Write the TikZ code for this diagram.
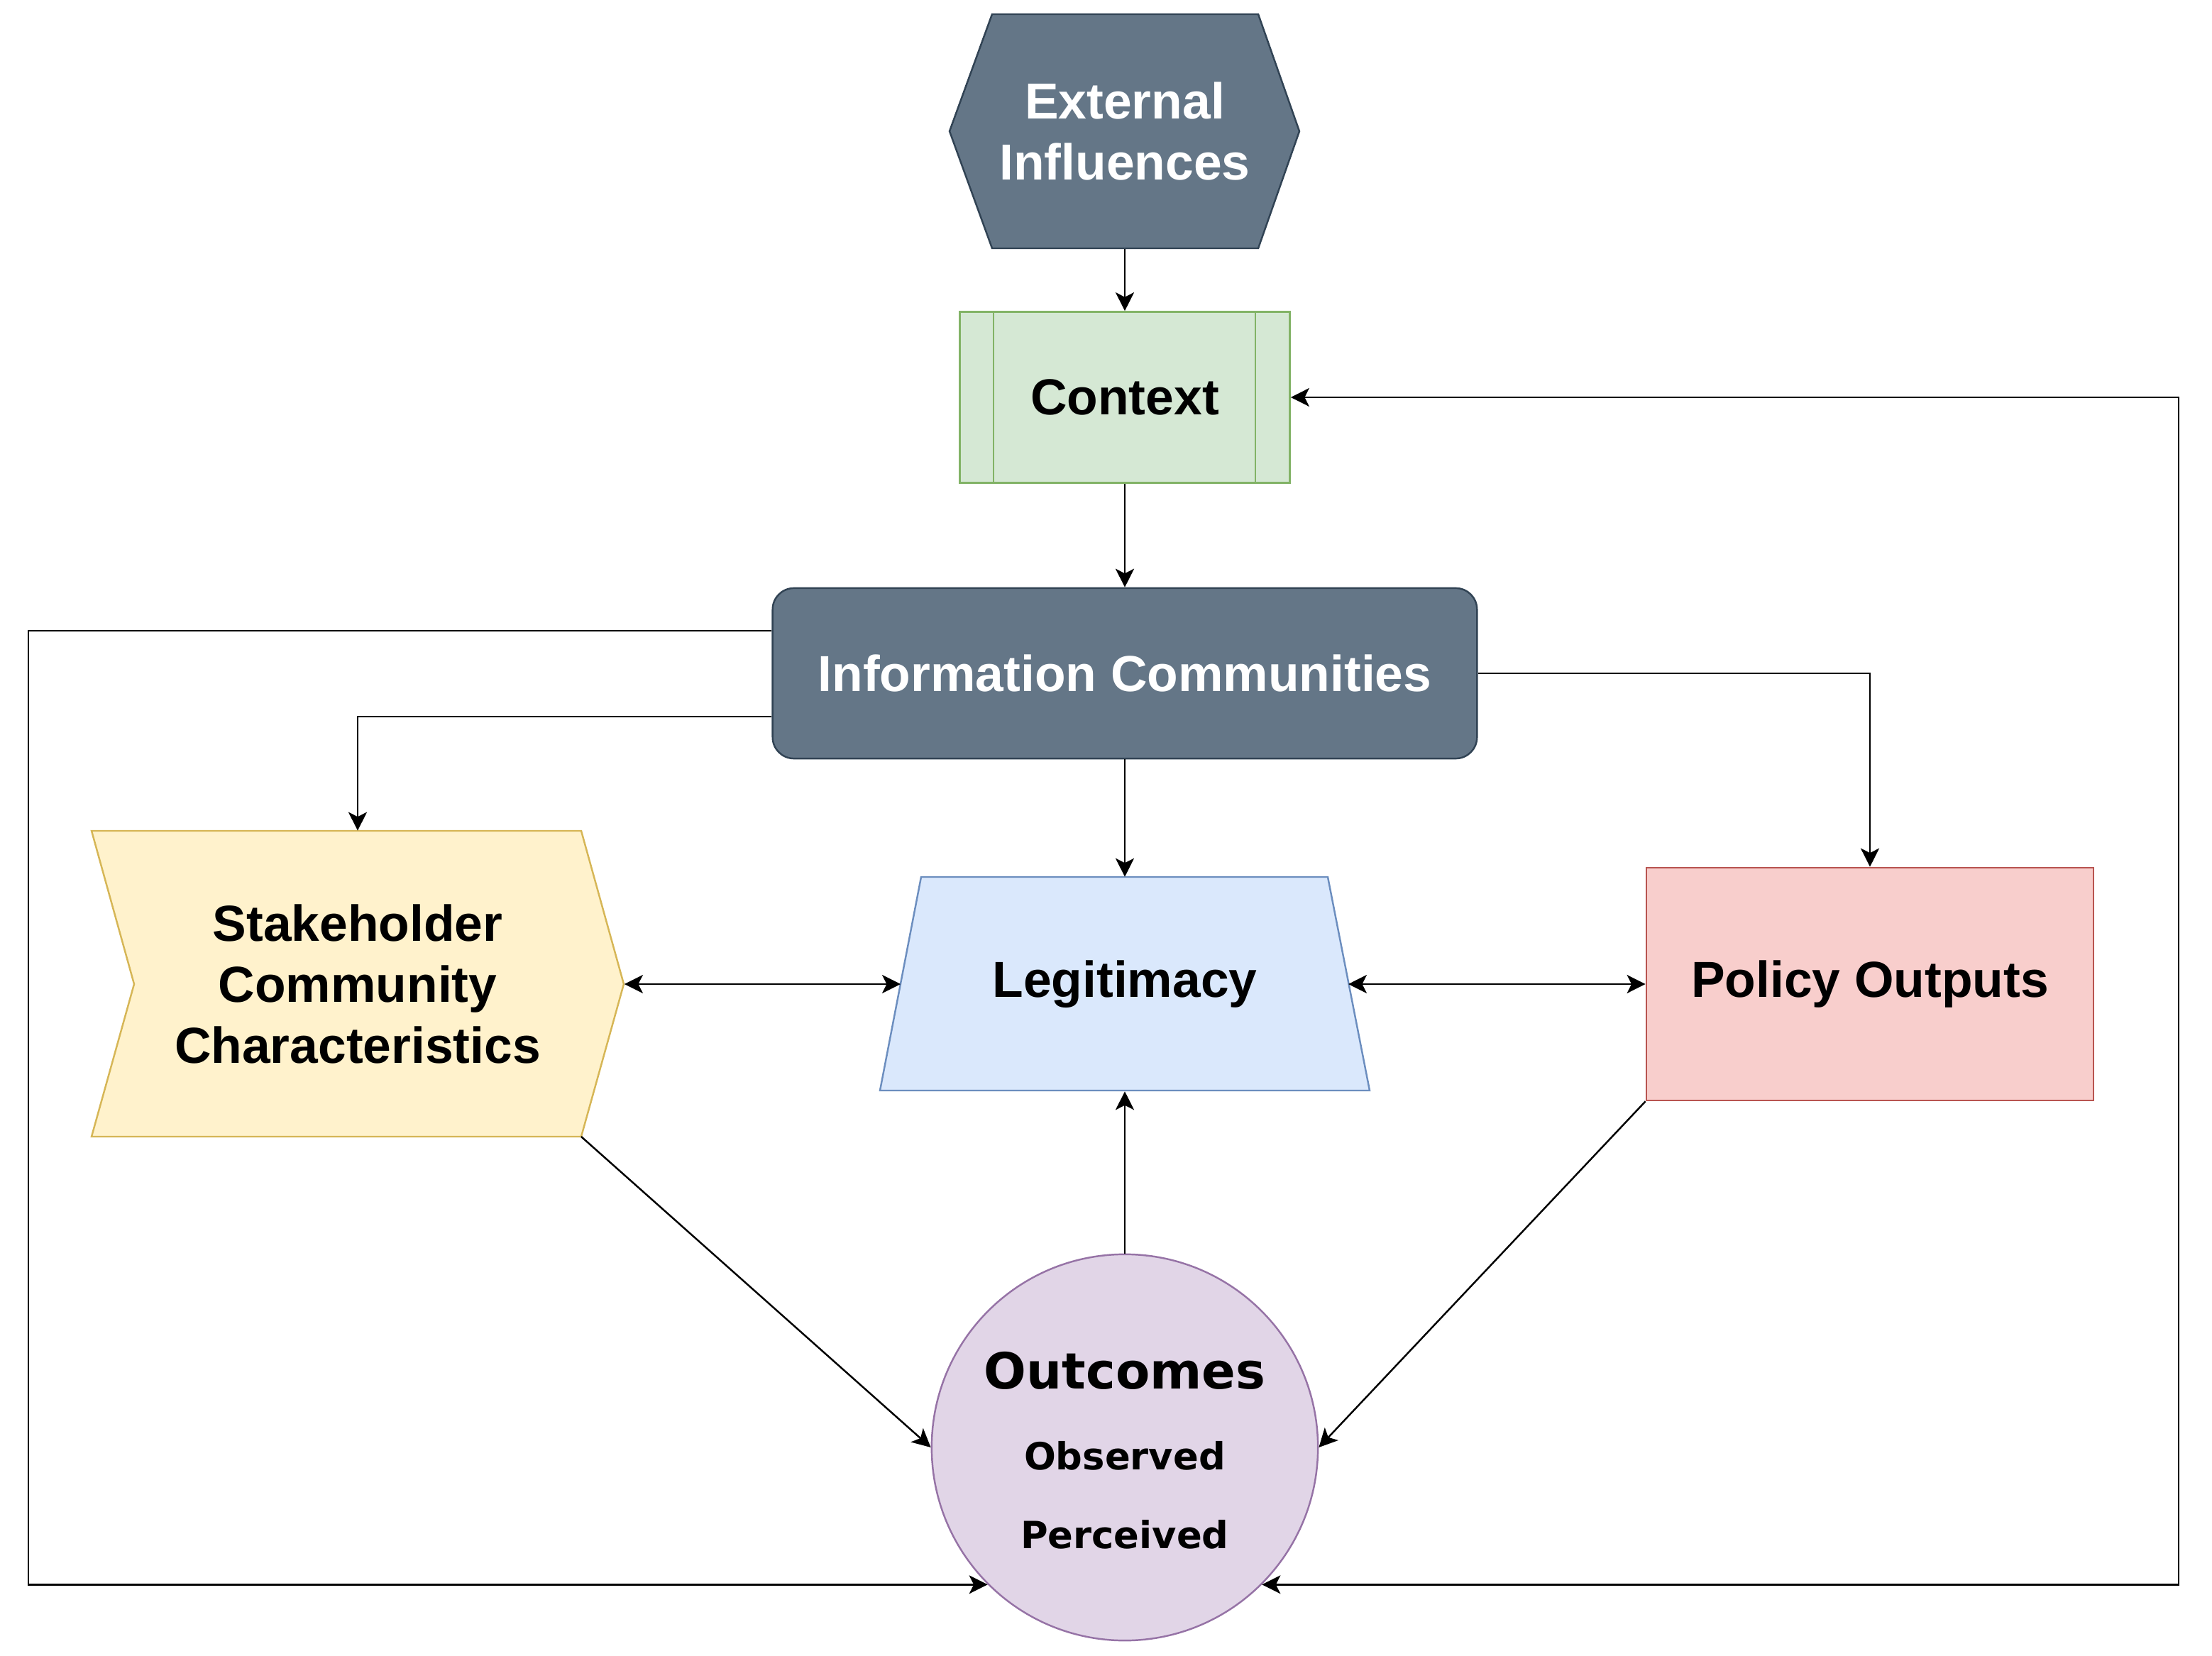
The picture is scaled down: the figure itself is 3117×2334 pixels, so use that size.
\documentclass[tikz,border=0pt]{standalone}
\usepackage{fontspec}
\setmainfont{Liberation Sans}
\newfontfamily\verdfont{DejaVu Sans}
\usetikzlibrary{arrows.meta,calc,shapes.geometric}
\definecolor{slatefill}{HTML}{647687}
\definecolor{slateline}{HTML}{314354}
\definecolor{ctxfill}{HTML}{D5E8D4}
\definecolor{ctxline}{HTML}{82B366}
\definecolor{stkfill}{HTML}{FFF2CC}
\definecolor{stkline}{HTML}{D6B656}
\definecolor{legfill}{HTML}{DAE8FC}
\definecolor{legline}{HTML}{6C8EBF}
\definecolor{polfill}{HTML}{F8CECC}
\definecolor{polline}{HTML}{B85450}
\definecolor{outfill}{HTML}{E1D5E7}
\definecolor{outline}{HTML}{9673A6}
\begin{document}
\begin{tikzpicture}[x=0.01cm,y=-0.01cm,
  txt/.style={font=\fontsize{20.3}{24.4}\selectfont\bfseries, align=center, inner sep=0pt},
  box/.style={line width=0.7pt, inner sep=0pt},
  arr/.style={-{Stealth[length=0.26cm,width=0.26cm,inset=0.065cm]}, line width=0.7pt},
  darr/.style={{Stealth[length=0.26cm,width=0.26cm,inset=0.065cm]}-{Stealth[length=0.26cm,width=0.26cm,inset=0.065cm]}, line width=0.7pt},
  otxt/.style={inner sep=0pt, font=\verdfont\bfseries}]
\useasboundingbox (0,0) rectangle (3117,2334);

% External Influences (hexagon)
\path[draw=slateline, fill=slatefill, line width=0.7pt]
  (1338,185) -- (1398,20) -- (1773,20) -- (1831,185) -- (1773,350) -- (1398,350) -- cycle;
\node[txt, text=white, minimum width=4.93cm, minimum height=3.3cm] (hex) at (1585,185) {External\\Influences};

% Context
\node[box, txt, draw=ctxline, fill=ctxfill, minimum width=4.65cm, minimum height=2.41cm] (ctx) at (1585,560) {Context};
\draw[ctxline, line width=0.7pt] (1400,439) -- (1400,680) (1769,439) -- (1769,680);

% Information Communities
\node[box, txt, text=white, draw=slateline, fill=slatefill, rounded corners=0.3cm, minimum width=9.92cm, minimum height=2.4cm] (ic) at (1585,949) {Information Communities};

% Stakeholder Community Characteristics
\path[draw=stkline, fill=stkfill, line width=0.7pt]
  (129,1171) -- (819,1171) -- (879,1387) -- (819,1602) -- (129,1602) -- (189,1387) -- cycle;
\node[txt, minimum width=7.5cm, minimum height=4.31cm] (stake) at (504,1387) {Stakeholder\\Community\\Characteristics};
\coordinate (stakeBR) at (819,1602);

% Legitimacy
\path[draw=legline, fill=legfill, line width=0.7pt]
  (1298,1236) -- (1871,1236) -- (1930,1537) -- (1240,1537) -- cycle;
\node[txt, minimum width=6.9cm, minimum height=3.01cm] (leg) at (1585,1387) {Legitimacy};
\coordinate (legL) at (1269,1387);
\coordinate (legR) at (1900,1387);

% Policy Outputs
\node[box, txt, draw=polline, fill=polfill, minimum width=6.3cm, minimum height=3.28cm] (pol) at (2635,1387) {Policy Outputs};

% Outcomes
\node[circle, draw=outline, fill=outfill, line width=0.7pt, minimum size=5.44cm, inner sep=0pt] (out) at (1585,2040) {};
\node[otxt, font=\verdfont\bfseries\fontsize{20}{24}\selectfont] (outT) at (1585,1932) {Outcomes};
\node[otxt, font=\verdfont\bfseries\fontsize{15}{18}\selectfont] (outO) at (1585,2052) {Observed};
\node[otxt, font=\verdfont\bfseries\fontsize{15}{18}\selectfont] (outP) at (1585,2163) {Perceived};

\coordinate (leftX) at (40,0);
\coordinate (rightX) at (3070,0);

% connectors
\draw[arr] (hex.south) -- (ctx.north);
\draw[arr] (ctx.south) -- (ic.north);
\draw[arr] (ic.west |- 0,889) -- (leftX |- 0,889) -- (leftX |- out.225) -- (out.225);
\draw[arr] (ic.west |- 0,1010) -| (stake.north);
\draw[arr] (ic.south) -- (leg.north);
\draw[arr] (ic.east) -| (pol.north);
\draw[darr] (stake.east) -- (legL);
\draw[darr] (legR) -- (pol.west);
\draw[arr] (out.north) -- (leg.south);
\draw[arr] (stakeBR) -- (out.west);
\draw[arr] (pol.south west) -- (out.east);
\draw[darr] (out.-45) -- (rightX |- out.-45) -- (rightX |- ctx.east) -- (ctx.east);
\end{tikzpicture}
\end{document}
